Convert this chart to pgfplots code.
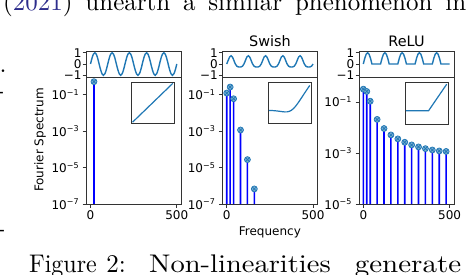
\documentclass[border=0pt]{standalone}
\usepackage{pgfplots}
\pgfplotsset{compat=1.18}
\usepackage{pgfplotstable}
\usepackage{fontspec}
\usepackage{graphicx}
\newfontfamily\djv{DejaVu Sans}
\definecolor{c0}{HTML}{1F77B4}
\definecolor{citeblue}{RGB}{45,45,140}
\definecolor{spine}{gray}{0.2}

\pgfplotstableread{
k sine swish relu
0 0 0 0
1 0.5 0.311 0.5
2 0.866 0.610 0.866
3 1 0.731 1
4 0.866 0.610 0.866
5 0.5 0.311 0.5
6 0 0 0
7 -0.5 -0.189 0
8 -0.866 -0.256 0
9 -1 -0.269 0
10 -0.866 -0.256 0
11 -0.5 -0.189 0
12 0 0 0
13 0.5 0.311 0.5
14 0.866 0.610 0.866
15 1 0.731 1
16 0.866 0.610 0.866
17 0.5 0.311 0.5
18 0 0 0
19 -0.5 -0.189 0
20 -0.866 -0.256 0
21 -1 -0.269 0
22 -0.866 -0.256 0
23 -0.5 -0.189 0
24 0 0 0
25 0.5 0.311 0.5
26 0.866 0.610 0.866
27 1 0.731 1
28 0.866 0.610 0.866
29 0.5 0.311 0.5
30 0 0 0
31 -0.5 -0.189 0
32 -0.866 -0.256 0
33 -1 -0.269 0
34 -0.866 -0.256 0
35 -0.5 -0.189 0
36 0 0 0
37 0.5 0.311 0.5
38 0.866 0.610 0.866
39 1 0.731 1
40 0.866 0.610 0.866
41 0.5 0.311 0.5
42 0 0 0
43 -0.5 -0.189 0
44 -0.866 -0.256 0
45 -1 -0.269 0
46 -0.866 -0.256 0
47 -0.5 -0.189 0
48 0 0 0
49 0.5 0.311 0.5
50 0.866 0.610 0.866
51 1 0.731 1
52 0.866 0.610 0.866
53 0.5 0.311 0.5
54 0 0 0
55 -0.5 -0.189 0
56 -0.866 -0.256 0
57 -1 -0.269 0
58 -0.866 -0.256 0
59 -0.5 -0.189 0
60 0 0 0
}\waves

\pgfplotstableread{
x swish
-5 -0.0335
-4.5 -0.0494
-4 -0.0719
-3.5 -0.1026
-3 -0.1423
-2.5 -0.1897
-2 -0.2384
-1.5 -0.2736
-1 -0.2689
-0.5 -0.1888
0 0
0.5 0.3112
1 0.7311
1.5 1.2264
2 1.7616
2.5 2.3103
3 2.8577
3.5 3.3974
4 3.9281
}\swishfn

\pgfplotstableread{
f amp
20 0.5
}\specid

\pgfplotstableread{
f amp
0 0.119
20 0.254
40 0.058
80 1.13e-3
120 2.7e-5
160 6.7e-7
}\specswish

\pgfplotstableread{
f amp
0 0.318
20 0.258
40 0.107
80 0.0207
120 0.0091
160 0.0051
200 0.00357
240 0.00263
280 0.00207
320 0.00173
360 0.00148
400 0.00131
440 0.0012
480 0.00115
}\specrelu

\pgfplotsset{
  every tick label/.append style={font=\djv\fontsize{12}{14}\selectfont},
  every axis/.append style={axis line style={spine, line width=0.8pt}},
}

\begin{document}
\begin{tikzpicture}
\path[use as bounding box] (0pt,0pt) rectangle (468pt,274pt);
\clip (0pt,0pt) rectangle (468pt,274pt);

% surrounding paper text
\node[anchor=base west, inner sep=0] at (3pt,263pt) {\scalebox{2.5}{\makebox[185.2pt][s]{(\textcolor{citeblue}{2021}) unearth a similar phenomenon in}}};
\node[anchor=base, inner sep=0] at (63pt,1.5pt) {\scalebox{2.4}[2.55]{Figure}};
\node[anchor=base, inner sep=0] at (116pt,1.5pt) {\scalebox{2.5}[2.55]{2:}};
\node[anchor=base, inner sep=0] at (240pt,1.5pt) {\scalebox{2.85}[2.55]{Non-linearities}};
\node[anchor=base, inner sep=0] at (408pt,1.5pt) {\scalebox{2.9}[2.55]{generate}};
% fragments of the neighbouring column
\node[anchor=base west, inner sep=0] at (-0.5pt,202pt) {\scalebox{2.5}{.}};
\node[anchor=base west, inner sep=0] at (-4pt,176pt) {\scalebox{2.5}{-}};
\node[anchor=base west, inner sep=0] at (-3pt,38pt) {\scalebox{2.5}{-}};

% ---------- Panel 1 (identity) ----------
\begin{axis}[scale only axis, width=94.9pt, height=127pt, anchor=south west,
    at={(86.2pt,70pt)}, ymode=log, ymin=1e-7, ymax=0.9, log origin y=infty,
    xmin=-25, xmax=525, xtick={0,500}, xticklabels={0,500},
    xtick pos=bottom, ytick pos=left, tick align=outside, major tick length=3.5pt,
    tick style={spine, line width=0.7pt}, clip=false,
    ytick={1e-7,1e-5,1e-3,1e-1},
    yticklabels={10\textsuperscript{−7},10\textsuperscript{−5},10\textsuperscript{−3},10\textsuperscript{−1}}]
\addplot[ybar, bar width=1.6pt, fill=blue, draw=none] table[x=f, y=amp] {\specid};
\addplot[only marks, mark=otimes*, mark size=3pt,
    mark options={draw=c0, fill=c0!60!white, line width=0.7pt}] table[x=f, y=amp] {\specid};
\end{axis}
\begin{axis}[scale only axis, width=94.9pt, height=26pt, anchor=south west, at={(86.2pt,197pt)},
    xmin=-3, xmax=63, ymin=-1.15, ymax=1.15, xtick=\empty,
    ytick={-1,0,1}, yticklabels={−1,0,1}, ytick pos=left, tick align=outside,
    major tick length=3.5pt, tick style={spine, line width=0.7pt},
    yticklabel style={inner sep=1pt}]
\addplot[c0, line width=1.4pt, smooth] table[x=k, y=sine] {\waves};
\end{axis}
\begin{axis}[scale only axis, width=43pt, height=41.5pt, anchor=south west, at={(131.2pt,150.5pt)},
    xtick=\empty, ytick=\empty, xmin=-1.07, xmax=1.07, ymin=-1.07, ymax=1.07]
\addplot[c0, line width=1.2pt] coordinates {(-1,-1) (1,1)};
\end{axis}

% ---------- Panel 2 (Swish) ----------
\begin{axis}[scale only axis, width=94.9pt, height=127pt, anchor=south west,
    at={(222.4pt,70pt)}, ymode=log, ymin=1e-7, ymax=0.9, log origin y=infty,
    xmin=-25, xmax=525, xtick={0,500}, xticklabels={0,500},
    xtick pos=bottom, ytick pos=left, tick align=outside, major tick length=3.5pt,
    tick style={spine, line width=0.7pt}, clip=false,
    ytick={1e-7,1e-5,1e-3,1e-1},
    yticklabels={10\textsuperscript{−7},10\textsuperscript{−5},10\textsuperscript{−3},10\textsuperscript{−1}}]
\addplot[ybar, bar width=1.6pt, fill=blue, draw=none] table[x=f, y=amp] {\specswish};
\addplot[only marks, mark=otimes*, mark size=3pt,
    mark options={draw=c0, fill=c0!60!white, line width=0.7pt}] table[x=f, y=amp] {\specswish};
\end{axis}
\begin{axis}[scale only axis, width=94.9pt, height=26pt, anchor=south west, at={(222.4pt,197pt)},
    xmin=-3, xmax=63, ymin=-1.15, ymax=1.15, xtick=\empty,
    ytick={-1,0,1}, yticklabels={−1,0,1}, ytick pos=left, tick align=outside,
    major tick length=3.5pt, tick style={spine, line width=0.7pt},
    yticklabel style={inner sep=1pt}]
\addplot[c0, line width=1.4pt, smooth] table[x=k, y=swish] {\waves};
\end{axis}
\begin{axis}[scale only axis, width=43pt, height=41.5pt, anchor=south west, at={(268pt,150.3pt)},
    xtick=\empty, ytick=\empty, xmin=-5.19, xmax=4.28, ymin=-2.15, ymax=4.45]
\addplot[c0, line width=1.2pt, smooth] table[x=x, y=swish] {\swishfn};
\end{axis}

% ---------- Panel 3 (ReLU) ----------
\begin{axis}[scale only axis, width=94.9pt, height=127pt, anchor=south west,
    at={(359pt,70pt)}, ymode=log, ymin=1e-5, ymax=0.95, log origin y=infty,
    xmin=-25, xmax=525, xtick={0,500}, xticklabels={0,500},
    xtick pos=bottom, ytick pos=left, tick align=outside, major tick length=3.5pt,
    tick style={spine, line width=0.7pt}, clip=false,
    ytick={1e-5,1e-3,1e-1},
    yticklabels={10\textsuperscript{−5},10\textsuperscript{−3},10\textsuperscript{−1}}]
\addplot[ybar, bar width=1.6pt, fill=blue, draw=none] table[x=f, y=amp] {\specrelu};
\addplot[only marks, mark=otimes*, mark size=3pt,
    mark options={draw=c0, fill=c0!60!white, line width=0.7pt}] table[x=f, y=amp] {\specrelu};
\end{axis}
\begin{axis}[scale only axis, width=94.9pt, height=26pt, anchor=south west, at={(359pt,197pt)},
    xmin=-3, xmax=63, ymin=-1.15, ymax=1.15, xtick=\empty,
    ytick={-1,0,1}, yticklabels={−1,0,1}, ytick pos=left, tick align=outside,
    major tick length=3.5pt, tick style={spine, line width=0.7pt},
    yticklabel style={inner sep=1pt}]
\addplot[c0, line width=1.4pt] table[x=k, y=relu] {\waves};
\end{axis}
\begin{axis}[scale only axis, width=43pt, height=41.5pt, anchor=south west, at={(405pt,150pt)},
    xtick=\empty, ytick=\empty, xmin=-5.19, xmax=4.28, ymin=-2.0, ymax=4.25]
\addplot[c0, line width=1.2pt] coordinates {(-5,0) (0,0) (4,4)};
\end{axis}

% labels and titles
\node[rotate=90, font=\djv\fontsize{12}{14}\selectfont] at (40pt,134pt) {Fourier Spectrum};
\node[font=\djv\fontsize{12}{14}\selectfont] at (269.9pt,42pt) {Frequency};
\node[font=\djv\fontsize{14.4}{16}\selectfont] at (269.9pt,233pt) {Swish};
\node[font=\djv\fontsize{14.4}{16}\selectfont] at (406.5pt,233pt) {ReLU};
\end{tikzpicture}
\end{document}
